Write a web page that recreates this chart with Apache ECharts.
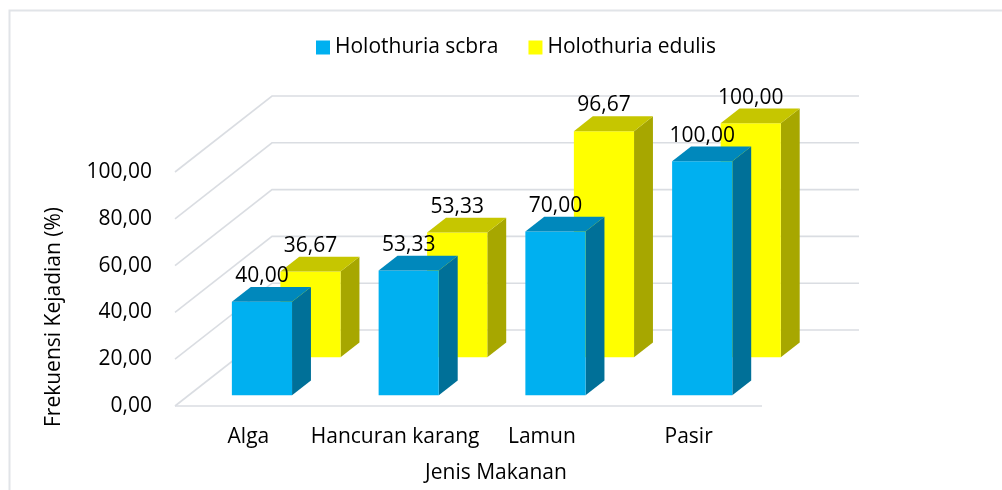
<!DOCTYPE html>
<html>
<head>
<meta charset="utf-8">
<script src="https://cdn.jsdelivr.net/npm/echarts@6/dist/echarts.min.js"></script>
<style>
html,body{margin:0;padding:0;background:#fff;}
#chart{width:1002px;height:490px;}
</style>
</head>
<body>
<div id="chart"></div>
<script>
// ---- data ----
var categories = ['Alga', 'Hancuran karang', 'Lamun', 'Pasir'];
var seriesNames = ['Holothuria scbra', 'Holothuria edulis'];
var scbraValues = [40.00, 53.33, 70.00, 100.00];
var edulisValues = [36.67, 53.33, 96.67, 100.00];
var yTicks = [0, 20, 40, 60, 80, 100];

// ---- 3D style constants ----
var DX = 97, DY = 76;           // depth vector of the floor (px)
var FONT = 'Open Sans';
var FS = 21;

function fmt(v) { return v.toFixed(2).replace('.', ','); }

function barRenderer(f0, fd, colors) {
  return function (params, api) {
    var i = api.value(0), v = api.value(1);
    var base = api.coord([i, 0]);
    var top = api.coord([i, v]);
    var bw = api.size([1, 0])[0] * 0.41;
    var ox = DX * f0, oy = DY * f0, sx = DX * fd, sy = DY * fd;
    var x0 = base[0] - bw / 2 + ox, x1 = x0 + bw;
    var yb = base[1] - oy, yt = top[1] - oy;
    return {
      type: 'group',
      children: [
        { type: 'polygon', shape: { points: [[x1, yt], [x1 + sx, yt - sy], [x1 + sx, yb - sy], [x1, yb]] },
          style: { fill: colors[2] } },
        { type: 'rect', shape: { x: x0, y: yt, width: bw, height: yb - yt },
          style: { fill: colors[0] } },
        { type: 'polygon', shape: { points: [[x0, yt], [x1, yt], [x1 + sx, yt - sy], [x0 + sx, yt - sy]] },
          style: { fill: colors[1] } },
        { type: 'text', x: x0 + bw / 2, y: yt - sy - 11,
          style: { text: fmt(v), fill: '#000', font: FS + 'px "' + FONT + '"', align: 'center', verticalAlign: 'middle' } }
      ]
    };
  };
}

var chart = echarts.init(document.getElementById('chart'), null, { renderer: 'canvas' });
chart.setOption({
  backgroundColor: '#fff',
  animation: false,
  textStyle: { fontFamily: FONT },
  graphic: [{
    type: 'rect', left: 7, top: 8, z: -10,
    shape: { width: 1200, height: 700 },
    style: { fill: 'none', stroke: '#E1E4E8', lineWidth: 2 }
  }],
  legend: {
    data: seriesNames,
    left: 316, top: 37, padding: 0,
    icon: 'rect', itemWidth: 14, itemHeight: 14, itemGap: 30,
    textStyle: { fontSize: FS, color: '#000', fontFamily: FONT }
  },
  grid: { left: 175, top: 172, width: 587, height: 234 },
  xAxis: {
    type: 'category', data: categories,
    axisLine: { show: false }, axisTick: { show: false },
    axisLabel: { fontSize: FS, color: '#000', margin: 21, interval: 0 },
    name: 'Jenis Makanan', nameLocation: 'middle', nameGap: 57,
    nameTextStyle: { fontSize: FS, color: '#000', padding: [0, 0, 0, 55] }
  },
  yAxis: {
    type: 'value', min: 0, max: 100, interval: 20,
    axisLine: { show: false }, axisTick: { show: false }, splitLine: { show: false },
    axisLabel: { fontSize: FS, color: '#000', margin: 23, formatter: function (v) { return fmt(v); } },
    name: 'Frekuensi Kejadian (%)', nameLocation: 'middle', nameGap: 110, nameRotate: 90,
    nameTextStyle: { fontSize: FS, color: '#000', padding: [0, 56, 0, 0] }
  },
  series: [
    {
      type: 'custom', name: '_grid', z: 1, silent: true,
      data: yTicks.map(function (v) { return [0, v]; }),
      renderItem: function (params, api) {
        var v = api.value(1);
        var y = api.coord([0, v])[1];
        var cs = params.coordSys;
        var pts = [[cs.x, y], [cs.x + DX, y - DY], [cs.x + cs.width + DX, y - DY]];
        var children = [{ type: 'polyline', shape: { points: pts },
          style: { stroke: '#DADDE2', lineWidth: 1.6, fill: null } }];
        if (v === 0) {
          children.push({ type: 'line', shape: { x1: cs.x, y1: y, x2: cs.x + cs.width, y2: y },
            style: { stroke: '#DADDE2', lineWidth: 1.6 } });
        }
        return { type: 'group', children: children };
      }
    },
    {
      type: 'custom', name: seriesNames[1], z: 2,
      itemStyle: { color: '#FFFF00' },
      data: edulisValues.map(function (v, i) { return [i, v]; }),
      renderItem: barRenderer(0.64, 0.195, ['#FFFF00', '#C6C600', '#A7A700'])
    },
    {
      type: 'custom', name: seriesNames[0], z: 3,
      itemStyle: { color: '#00B0F0' },
      data: scbraValues.map(function (v, i) { return [i, v]; }),
      renderItem: barRenderer(0.14, 0.195, ['#00B0F0', '#0088BC', '#007098'])
    }
  ]
});
</script>
</body>
</html>
